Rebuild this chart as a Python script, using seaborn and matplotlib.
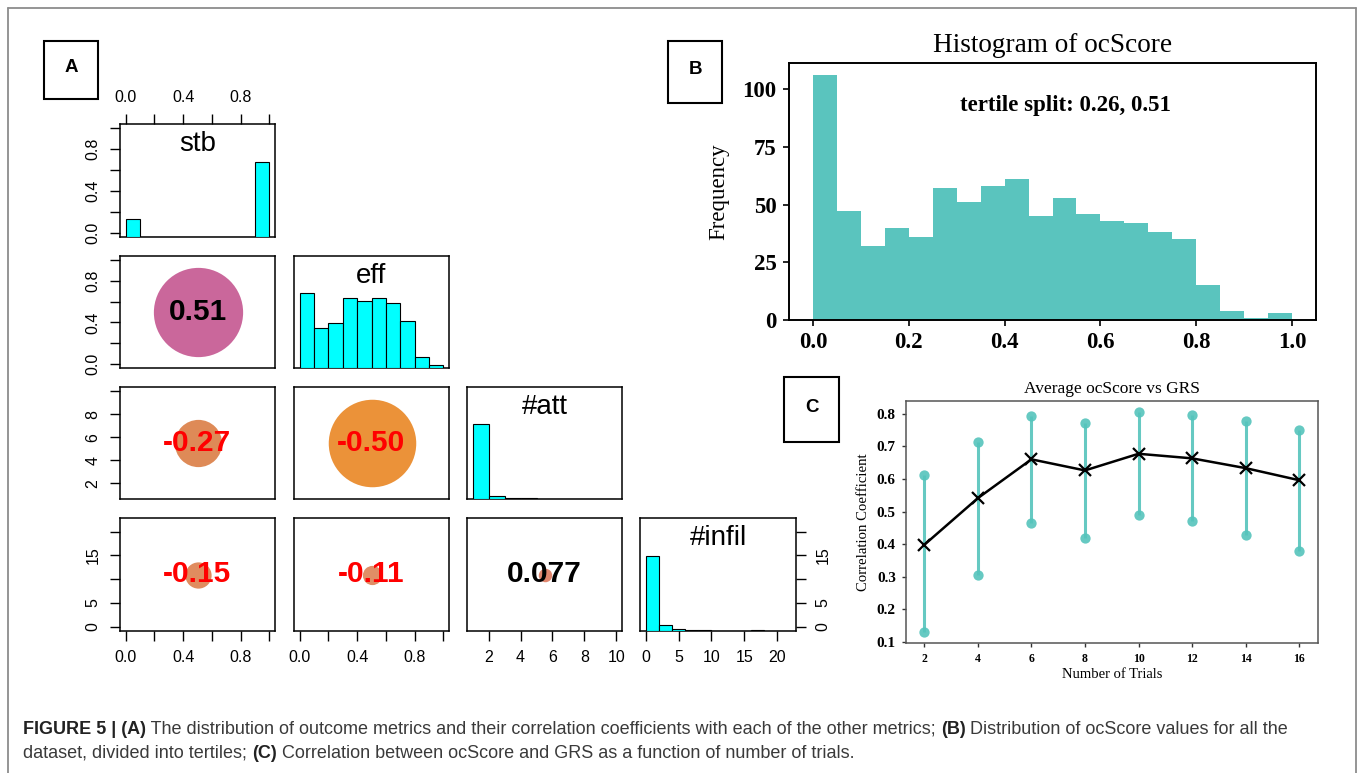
import numpy as np
import pandas as pd
import matplotlib
matplotlib.use("Agg")
import matplotlib.pyplot as plt
import seaborn as sns
from matplotlib.patches import Rectangle
from matplotlib.lines import Line2D

# ------------------------------------------------------------------ data
# Panel A: pairs plot (diagonal histograms scaled to max = 1, lower panels = correlations)
var_names = ['stb', 'eff', '#att', '#infil']
var_ranges = [(0, 1), (0, 1), (1, 10), (0, 22)]

stb_edges = [0.0, 0.1, 0.2, 0.3, 0.4, 0.5, 0.6, 0.7, 0.8, 0.9, 1.0]
stb_heights = [0.24, 0, 0, 0, 0, 0, 0, 0, 0, 1.0]
eff_edges = [0.0, 0.1, 0.2, 0.3, 0.4, 0.5, 0.6, 0.7, 0.8, 0.9, 1.0]
eff_heights = [1.0, 0.54, 0.60, 0.94, 0.90, 0.94, 0.87, 0.63, 0.15, 0.036]
att_edges = [1, 2, 3, 4, 5, 6, 7, 8, 9, 10]
att_heights = [1.0, 0.035, 0.012, 0.012, 0.006, 0.004, 0.003, 0.002, 0.003]
infil_edges = [0, 2, 4, 6, 8, 10, 12, 14, 16, 18, 20, 22]
infil_heights = [1.0, 0.08, 0.03, 0.01, 0.01, 0.005, 0.004, 0.006, 0.01, 0.004, 0.006]

corr_pairs = [(1, 0), (2, 0), (2, 1), (3, 0), (3, 1), (3, 2)]
corr_values = [0.51, -0.27, -0.50, -0.15, -0.11, 0.077]
corr_labels = ['0.51', '-0.27', '-0.50', '-0.15', '-0.11', '0.077']

unit_ticks = [0.0, 0.2, 0.4, 0.6, 0.8, 1.0]
unit_ticklabels = ['0.0', '', '0.4', '', '0.8', '']
att_ticks = [2, 4, 6, 8, 10]
att_xticklabels = ['2', '4', '6', '8', '10']
att_yticklabels = ['2', '4', '6', '8', '']
infil_ticks = [0, 5, 10, 15, 20]
infil_xticklabels = ['0', '5', '10', '15', '20']
infil_yticklabels = ['0', '5', '', '15', '']

# Panel B: histogram of ocScore
oc_edges = [0.0, 0.05, 0.1, 0.15, 0.2, 0.25, 0.3, 0.35, 0.4, 0.45, 0.5,
            0.55, 0.6, 0.65, 0.7, 0.75, 0.8, 0.85, 0.9, 0.95, 1.0]
oc_counts = [106, 47, 32, 40, 36, 57, 51, 58, 61, 45, 53, 46, 43, 42, 38, 35, 15, 4, 1, 3]
oc_xticks = [0.0, 0.2, 0.4, 0.6, 0.8, 1.0]
oc_xticklabels = ['0.0', '0.2', '0.4', '0.6', '0.8', '1.0']
oc_yticks = [0, 25, 50, 75, 100]
oc_yticklabels = ['0', '25', '50', '75', '100']
tertile_text = 'tertile split: 0.26, 0.51'

# Panel C: average ocScore vs GRS
trials = [2, 4, 6, 8, 10, 12, 14, 16]
corr_mean = [0.398, 0.541, 0.660, 0.626, 0.677, 0.663, 0.633, 0.596]
corr_upper = [0.613, 0.712, 0.793, 0.771, 0.805, 0.797, 0.776, 0.751]
corr_lower = [0.131, 0.305, 0.466, 0.420, 0.489, 0.471, 0.428, 0.378]
c_yticks = [0.1, 0.2, 0.3, 0.4, 0.5, 0.6, 0.7, 0.8]
c_yticklabels = ['0.1', '0.2', '0.3', '0.4', '0.5', '0.6', '0.7', '0.8']

caption_line1 = [("FIGURE 5 | (A)", True),
                 (" The distribution of outcome metrics and their correlation coefficients with each of the other metrics; ", False),
                 ("(B)", True),
                 (" Distribution of ocScore values for all the", False)]
caption_line2 = [("dataset, divided into tertiles; ", False),
                 ("(C)", True),
                 (" Correlation between ocScore and GRS as a function of number of trials.", False)]

# ------------------------------------------------------------------ style
sns.set_theme(style="white", rc={"text.color": "black", "axes.labelcolor": "black",
                                 "xtick.color": "black", "ytick.color": "black",
                                 "axes.edgecolor": "black"})
SANS = ['Liberation Sans', 'DejaVu Sans']
SERIF = ['Liberation Serif', 'DejaVu Serif']
plt.rcParams['font.family'] = SANS

W, H = 1358, 773
fig = plt.figure(figsize=(W / 100, H / 100), dpi=100)
fig.patch.set_facecolor('white')


def px_rect(x0, y0, x1, y1):
    return [x0 / W, 1 - y1 / H, (x1 - x0) / W, (y1 - y0) / H]


# outer frame
frame_kw = dict(color='#8c8c8c', lw=1.3)
fig.add_artist(Line2D([8 / W, 8 / W], [0, 1 - 8 / H], **frame_kw))
fig.add_artist(Line2D([8 / W, 1356 / W], [1 - 8 / H, 1 - 8 / H], **frame_kw))
fig.add_artist(Line2D([1356 / W, 1356 / W], [0, 1 - 8 / H], **frame_kw))


def label_box(x0, y0, x1, y1, letter):
    fig.add_artist(Rectangle((x0 / W, 1 - y1 / H), (x1 - x0) / W, (y1 - y0) / H, fill=False,
                             ec='black', lw=1.5, transform=fig.transFigure))
    fig.text((x0 + x1) / 2 / W, 1 - ((y0 + y1) / 2 - 2) / H, letter, ha='center', va='center',
             fontsize=13.5, fontweight='bold', family=SANS)


label_box(44, 41, 98, 99, 'A')
label_box(668, 41, 722, 103, 'B')
label_box(784, 377, 839, 442, 'C')

# ------------------------------------------------------------------ panel A
col_x = [(120, 275), (294, 449), (467, 622), (640, 796)]
row_y = [(124, 237), (256, 368), (387, 499), (518, 631)]
lims = [(lo - 0.04 * (hi - lo), hi + 0.04 * (hi - lo)) for lo, hi in var_ranges]
hist_edges = [stb_edges, eff_edges, att_edges, infil_edges]
hist_heights = [stb_heights, eff_heights, att_heights, infil_heights]
tick_pos = [unit_ticks, unit_ticks, att_ticks, infil_ticks]
xticklabels = [unit_ticklabels, unit_ticklabels, att_xticklabels, infil_xticklabels]
yticklabels = [unit_ticklabels, unit_ticklabels, att_yticklabels, infil_yticklabels]
corr_lookup = {p: (v, l) for p, v, l in zip(corr_pairs, corr_values, corr_labels)}
circle_colors = {(1, 0): '#CA679B', (2, 0): '#DE8A57', (2, 1): '#EB9239',
                 (3, 0): '#E08C5F', (3, 1): '#E08E66', (3, 2): '#E0866E'}
PX_PER_R = 175  # circle diameter (px) per unit |r|

for i in range(4):
    for j in range(i + 1):
        rect = px_rect(col_x[j][0], row_y[i][0], col_x[j][1], row_y[i][1])
        ax = fig.add_axes(rect)
        ax.set_facecolor('white')
        for sp in ax.spines.values():
            sp.set_color('black')
            sp.set_linewidth(1.1)
        ax.tick_params(which='both', direction='out', length=7, width=1, colors='black',
                       labelsize=11.5, pad=7, bottom=False, top=False, left=False, right=False,
                       labelbottom=False, labeltop=False, labelleft=False, labelright=False)
        ax.set_xticks(tick_pos[j], xticklabels[j])
        ax.set_yticks(tick_pos[i], yticklabels[i])
        if j == 0:
            ax.tick_params(axis='y', left=True, labelleft=True, labelrotation=90)
        if i == 3:
            ax.tick_params(axis='x', bottom=True, labelbottom=True)
        if i == 0 and j == 0:
            ax.tick_params(axis='x', top=True, labeltop=True)
        if i == 3 and j == 3:
            ax.tick_params(axis='y', right=True, labelright=True, labelrotation=90)
        for lbl in ax.get_yticklabels():
            lbl.set_va('center')
        ax.set_xlim(lims[j])
        ax.set_ylim(lims[i])

        if i == j:
            ov = fig.add_axes(rect)
            edges = [float(e) for e in hist_edges[i]]
            hdf = pd.DataFrame({'value': [(a + b) / 2 for a, b in zip(edges[:-1], edges[1:])],
                                'height': [float(h) for h in hist_heights[i]]})
            sns.histplot(data=hdf, x='value', weights='height', bins=edges, color='#00FFFF',
                         edgecolor='black', linewidth=0.8, alpha=1, ax=ov)
            ov.set_xlim(lims[i])
            ov.set_ylim(0, 1.5)
            ov.set_axis_off()
            ov.text(0.5, 0.82, var_names[i], transform=ov.transAxes, ha='center', va='center',
                    fontsize=20, family=SANS)
        else:
            r, lab = corr_lookup[(i, j)]
            cx, cy = np.mean(lims[j]), np.mean(lims[i])
            d_pt = PX_PER_R * abs(r) * 0.72
            ax.scatter([cx], [cy], s=d_pt ** 2, color=circle_colors[(i, j)], linewidths=0, zorder=2)
            ax.text(cx, cy, lab, ha='center', va='center', fontsize=21.5, fontweight='bold',
                    color='black' if r > 0 else '#FF0000', zorder=3, family=SANS)
            ax.set_xlim(lims[j])
            ax.set_ylim(lims[i])

# ------------------------------------------------------------------ panel B
axB = fig.add_axes(px_rect(789, 63, 1316, 320))
oc_df = pd.DataFrame({'ocScore': [(a + b) / 2 for a, b in zip(oc_edges[:-1], oc_edges[1:])],
                      'count': [float(c) for c in oc_counts]})
sns.histplot(data=oc_df, x='ocScore', weights='count', bins=oc_edges, color='#5AC4BE',
             edgecolor='none', linewidth=0, alpha=1, ax=axB)
axB.set_xlim(-0.05, 1.05)
axB.set_ylim(0, 111.3)
for sp in axB.spines.values():
    sp.set_color('black')
    sp.set_linewidth(1.4)
axB.tick_params(direction='out', length=4, width=1.2, colors='black', pad=5,
                bottom=True, left=True)
axB.set_xticks(oc_xticks, oc_xticklabels, fontsize=16.5, fontweight='bold', family=SERIF)
axB.set_yticks(oc_yticks, oc_yticklabels, fontsize=16.5, fontweight='bold', family=SERIF)
axB.set_xlabel('')
axB.set_ylabel('Frequency', fontsize=16.5, family=SERIF)
axB.yaxis.set_label_coords(-0.114, 0.5)
axB.set_title('Histogram of ocScore', fontsize=19.6, family=SERIF, pad=8)
axB.text(0.526, 93, tertile_text, ha='center', va='center', fontsize=16.5,
         fontweight='bold', family=SERIF)

# ------------------------------------------------------------------ panel C
axC = fig.add_axes(px_rect(905.5, 401, 1318, 643))
teal = '#55C4BC'
axC.vlines(trials, corr_lower, corr_upper, color=teal, lw=2.2, alpha=0.9, zorder=1)
axC.scatter(trials, corr_upper, s=55, color=teal, alpha=0.9, linewidths=0, zorder=2)
axC.scatter(trials, corr_lower, s=55, color=teal, alpha=0.9, linewidths=0, zorder=2)
sns.lineplot(x=trials, y=corr_mean, color='black', lw=1.8, marker='x', markersize=8,
             markeredgewidth=1.6, markeredgecolor='black', ax=axC, zorder=3)
for sp in axC.spines.values():
    sp.set_color('#555555')
    sp.set_linewidth(1.1)
axC.tick_params(direction='out', length=3, width=1, colors='#333333', pad=4,
                bottom=True, left=True)
axC.set_xticks(trials, [str(t) for t in trials], fontsize=8.5, fontweight='bold',
               family=SERIF, color='black')
axC.set_yticks(c_yticks, c_yticklabels, fontsize=11, fontweight='bold', family=SERIF,
               color='black')
axC.set_title('Average ocScore vs GRS', fontsize=12.5, family=SERIF, pad=6)
axC.set_xlabel('Number of Trials', fontsize=10.5, family=SERIF)
axC.set_ylabel('Correlation Coefficient', fontsize=10.6, family=SERIF)
axC.xaxis.set_label_coords(0.5, -0.103)
axC.yaxis.set_label_coords(-0.086, 0.5)

# ------------------------------------------------------------------ caption
renderer = fig.canvas.get_renderer()


def text_w(s, bold, size):
    t = fig.text(0, 0, 'l' + s + 'l', fontsize=size, fontweight='bold' if bold else 'normal',
                 family=SANS)
    w1 = t.get_window_extent(renderer).width
    t.set_text('ll')
    w0 = t.get_window_extent(renderer).width
    t.remove()
    return w1 - w0


base = 12
line1_w = sum(text_w(s, b, base) for s, b in caption_line1)
cap_size = base * (1292 - 23) / line1_w


def place_runs(runs, x0, y):
    x = x0
    for s, b in runs:
        fig.text(x / W, 1 - y / H, s, fontsize=cap_size, fontweight='bold' if b else 'normal',
                 ha='left', va='center', family=SANS, color='#222222' if b else '#3a3a3a')
        x += text_w(s, b, cap_size)


place_runs(caption_line1, 23, 729)
place_runs(caption_line2, 23, 753)

fig.savefig('out.png', dpi=100, facecolor='white')
